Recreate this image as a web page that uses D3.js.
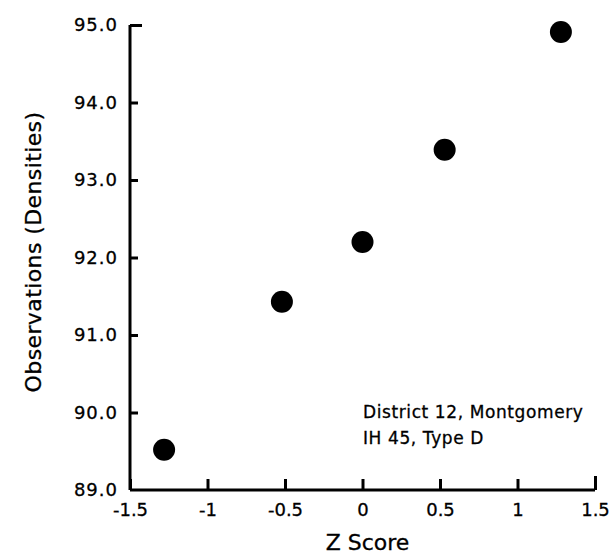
<!DOCTYPE html>
<html>
<head>
<meta charset="utf-8">
<script src="https://cdn.jsdelivr.net/npm/d3@7"></script>
<style>
  body { margin: 0; background: #fff; }
  svg text { font-family: "DejaVu Sans", "Liberation Sans", sans-serif; fill: #000; stroke: #000; stroke-width: 0.3px; }
  .axis path, .axis line { stroke: #000; stroke-width: 3; }
</style>
</head>
<body>
<div id="chart"></div>
<script>
// data
const zScores = [-1.28, -0.52, 0, 0.53, 1.28];
const densities = [89.52, 91.43, 92.2, 93.39, 94.91];
const xTicks = [-1.5, -1, -0.5, 0, 0.5, 1, 1.5];
const yTicks = [89, 90, 91, 92, 93, 94, 95];
const noteLines = ["District 12, Montgomery", "IH 45, Type D"];

const W = 609, H = 554;
const margin = { top: 25, right: 14, bottom: 64, left: 130 };

const svg = d3.select("#chart").append("svg")
  .attr("width", W)
  .attr("height", H);

const x = d3.scaleLinear().domain([-1.5, 1.5]).range([margin.left, W - margin.right]);
const y = d3.scaleLinear().domain([89, 95]).range([H - margin.bottom, margin.top]);

// x axis, ticks pointing up into the plot
const xAxis = svg.append("g")
  .attr("class", "axis")
  .attr("transform", `translate(0,${y(89)})`)
  .call(d3.axisBottom(x).tickValues(xTicks).tickSize(-11).tickSizeOuter(0)
    .tickFormat(d => String(d)));
xAxis.select(".domain").attr("d", `M${x(-1.5)},0H${x(1.5)}`);
xAxis.selectAll(".tick line").attr("y2", d => d === 1.5 ? -14 : -11);
xAxis.selectAll(".tick text")
  .attr("y", 13)
  .attr("dy", "0.71em")
  .style("font-size", "18px");

// y axis, ticks pointing right
const yAxis = svg.append("g")
  .attr("class", "axis")
  .attr("transform", `translate(${x(-1.5)},0)`)
  .call(d3.axisLeft(y).tickValues(yTicks).tickSize(-8).tickSizeOuter(0)
    .tickFormat(d3.format(".1f")));
yAxis.select(".domain").attr("d", `M0,${y(95)}V${y(89)}`);
yAxis.selectAll(".tick line").attr("x2", d => d === 95 ? 12 : d === 89 ? 0 : 8);
yAxis.selectAll(".tick text")
  .attr("x", -12)
  .style("font-size", "18px")
  .style("letter-spacing", "1px");

// points
svg.selectAll("circle.pt")
  .data(zScores.map((z, i) => ({ z, v: densities[i] })))
  .enter().append("circle")
  .attr("class", "pt")
  .attr("cx", d => x(d.z))
  .attr("cy", d => y(d.v))
  .attr("r", 11)
  .attr("fill", "#000");

// axis titles
svg.append("text")
  .attr("x", x(0) + 5)
  .attr("y", 550)
  .attr("text-anchor", "middle")
  .style("font-size", "22px")
  .text("Z Score");

svg.append("text")
  .attr("transform", "translate(41,252) rotate(-90)")
  .attr("text-anchor", "middle")
  .style("font-size", "22px")
  .style("letter-spacing", "0.4px")
  .text("Observations (Densities)");

// note
svg.selectAll("text.note")
  .data(noteLines)
  .enter().append("text")
  .attr("class", "note")
  .attr("x", 363)
  .attr("y", (d, i) => 418 + i * 26)
  .style("font-size", "17px")
  .style("letter-spacing", "0.6px")
  .text(d => d);
</script>
</body>
</html>
